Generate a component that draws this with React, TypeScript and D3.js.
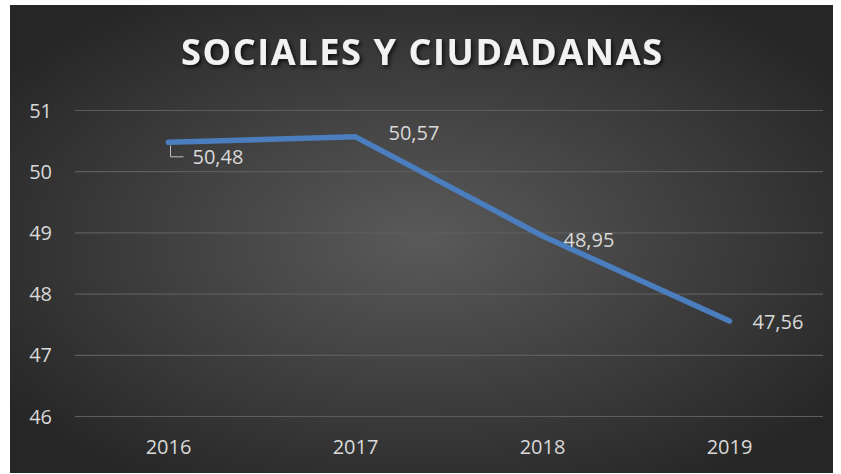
import React from 'react';
import * as d3 from 'd3';

const years = ['2016', '2017', '2018', '2019'];
const scores = [50.48, 50.57, 48.95, 47.56];
const yTicks = [46, 47, 48, 49, 50, 51];
const title = 'SOCIALES Y CIUDADANAS';

const W = 841;
const H = 474;
const font = "'Open Sans', 'Noto Sans', sans-serif";

export default function App() {
    const x = d3.scalePoint<string>().domain(years).range([75, 823]).padding(0.5);
    const y = d3.scaleLinear().domain([46, 51]).range([416.5, 110.5]);

    const line = d3.line<number>()
        .x((d, i) => x(years[i]) as number)
        .y(d => y(d));

    const fmt = (v: number) => v.toFixed(2).replace('.', ',');

    // label offsets relative to the point (Excel-style placement)
    const labelPos = [
        { dx: 24, dy: 15 },
        { dx: 33, dy: -4 },
        { dx: 21, dy: 4 },
        { dx: 23, dy: 1 },
    ];

    const x0 = x(years[0]) as number;
    const y0 = y(scores[0]);

    return (
        <div style={{ position: 'absolute', left: 0, top: 0 }}>
            <svg width={W} height={H} style={{ display: 'block', background: '#fff' }}>
                <defs>
                    <radialGradient id="bg" cx="50%" cy="50%" r="62%">
                        <stop offset="0%" stopColor="#5a5a5a" />
                        <stop offset="100%" stopColor="#262626" />
                    </radialGradient>
                    <filter id="shadow" x="-10%" y="-30%" width="120%" height="160%">
                        <feDropShadow dx="2" dy="2" stdDeviation="2" floodColor="#000" floodOpacity="0.75" />
                    </filter>
                </defs>
                <rect x={10} y={5} width={823} height={468} fill="url(#bg)" />

                <text x={421.5} y={65} textAnchor="middle" fill="#f2f2f2"
                    fontFamily={font} fontWeight={700} fontSize={36}
                    textLength={481} lengthAdjust="spacing" filter="url(#shadow)">
                    {title}
                </text>

                {yTicks.map(t => (
                    <g key={t}>
                        <line x1={75} x2={823} y1={y(t)} y2={y(t)} stroke="#5d5d5d" strokeWidth={1.2} />
                        <text x={52} y={y(t) + 7} textAnchor="end" fill="#d9d9d9"
                            fontFamily={font} fontSize={20}>{t}</text>
                    </g>
                ))}

                {years.map(yr => (
                    <text key={yr} x={x(yr)} y={454} textAnchor="middle" fill="#d9d9d9"
                        fontFamily={font} fontSize={20}>{yr}</text>
                ))}

                <path d={line(scores) || ''} fill="none" stroke="#4a7ebf" strokeWidth={5.5}
                    strokeLinecap="round" strokeLinejoin="round" />

                {/* leader line for the first label */}
                <path d={`M${x0 + 2},${y0 + 3} V${y0 + 14.5} H${x0 + 15}`}
                    fill="none" stroke="#bfbfbf" strokeWidth={1} />

                {scores.map((v, i) => (
                    <text key={i} x={(x(years[i]) as number) + labelPos[i].dx}
                        y={y(v) + labelPos[i].dy + 7} fill="#d9d9d9"
                        fontFamily={font} fontSize={20}>{fmt(v)}</text>
                ))}
            </svg>
        </div>
    );
}
